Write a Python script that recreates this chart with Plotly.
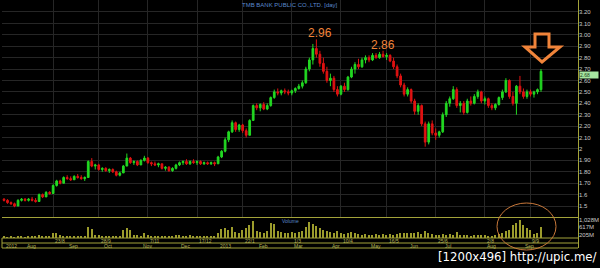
import plotly.graph_objects as go
import pandas as pd

# ---------------- data ----------------
opens = [1.56,1.55,1.53,1.52,1.50,1.55,1.56,1.55,1.56,1.55,
         1.54,1.60,1.58,1.62,1.61,1.68,1.72,1.70,1.75,1.74,
         1.73,1.76,1.75,1.74,1.75,1.89,1.85,1.86,1.82,1.83,
         1.81,1.82,1.80,1.77,1.79,1.85,1.92,1.88,1.89,1.86,
         1.90,1.92,1.88,1.87,1.86,1.87,1.83,1.84,1.81,1.83,
         1.86,1.88,1.89,1.87,1.89,1.88,1.89,1.87,1.88,1.87,
         1.88,1.87,1.93,1.98,2.08,2.15,2.23,2.17,2.21,2.16,
         2.12,2.25,2.38,2.36,2.39,2.35,2.38,2.45,2.50,2.49,
         2.51,2.50,2.49,2.51,2.53,2.55,2.58,2.70,2.78,2.88,
         2.83,2.75,2.68,2.60,2.62,2.52,2.48,2.55,2.52,2.63,
         2.70,2.74,2.72,2.78,2.80,2.78,2.82,2.80,2.83,2.81,
         2.82,2.77,2.72,2.64,2.56,2.48,2.52,2.42,2.33,2.38,
         2.22,2.06,2.22,2.14,2.12,2.15,2.30,2.40,2.44,2.52,
         2.38,2.40,2.32,2.42,2.40,2.46,2.50,2.42,2.44,2.38,
         2.36,2.39,2.45,2.50,2.60,2.46,2.40,2.55,2.50,2.46,
         2.50,2.48,2.50,2.52]
highs = [1.57,1.56,1.54,1.53,1.56,1.57,1.57,1.57,1.58,1.57,
         1.61,1.61,1.63,1.63,1.69,1.73,1.73,1.76,1.77,1.76,
         1.77,1.78,1.77,1.76,1.90,1.92,1.87,1.87,1.84,1.84,
         1.83,1.83,1.81,1.80,1.86,1.96,1.93,1.90,1.90,1.91,
         1.94,1.93,1.89,1.89,1.88,1.87,1.85,1.85,1.84,1.87,
         1.89,1.90,1.91,1.90,1.91,1.90,1.90,1.89,1.89,1.89,
         1.89,1.94,1.99,2.10,2.16,2.25,2.24,2.22,2.22,2.18,
         2.26,2.39,2.40,2.40,2.41,2.40,2.46,2.52,2.53,2.52,
         2.53,2.52,2.52,2.54,2.57,2.60,2.72,2.80,2.92,2.96,
         2.86,2.80,2.72,2.66,2.64,2.55,2.56,2.58,2.64,2.72,
         2.76,2.79,2.80,2.82,2.82,2.84,2.84,2.85,2.86,2.84,
         2.83,2.80,2.74,2.66,2.58,2.54,2.53,2.44,2.40,2.39,
         2.24,2.24,2.25,2.18,2.16,2.32,2.42,2.46,2.55,2.54,
         2.42,2.42,2.44,2.46,2.48,2.52,2.51,2.46,2.45,2.40,
         2.40,2.46,2.52,2.62,2.61,2.50,2.56,2.64,2.53,2.52,
         2.52,2.51,2.53,2.70]
lows = [1.54,1.52,1.51,1.49,1.50,1.54,1.54,1.54,1.54,1.53,
        1.54,1.57,1.58,1.60,1.61,1.67,1.69,1.70,1.73,1.72,
        1.73,1.74,1.73,1.72,1.75,1.84,1.82,1.81,1.80,1.80,
        1.79,1.79,1.76,1.76,1.79,1.85,1.87,1.86,1.85,1.86,
        1.89,1.87,1.85,1.85,1.84,1.82,1.81,1.80,1.80,1.82,
        1.85,1.86,1.86,1.86,1.87,1.86,1.86,1.86,1.86,1.86,
        1.85,1.87,1.92,1.97,2.06,2.14,2.15,2.15,2.14,2.10,
        2.12,2.25,2.34,2.33,2.34,2.34,2.37,2.44,2.47,2.47,
        2.48,2.47,2.47,2.49,2.52,2.53,2.57,2.68,2.74,2.80,
        2.72,2.66,2.58,2.55,2.50,2.46,2.47,2.50,2.51,2.62,
        2.66,2.70,2.71,2.75,2.76,2.77,2.79,2.79,2.80,2.78,
        2.76,2.70,2.62,2.54,2.46,2.46,2.40,2.30,2.30,2.20,
        2.02,2.04,2.12,2.08,2.10,2.14,2.28,2.37,2.43,2.36,
        2.32,2.30,2.31,2.38,2.39,2.44,2.40,2.39,2.36,2.34,
        2.34,2.38,2.43,2.49,2.44,2.38,2.30,2.48,2.44,2.44,
        2.46,2.45,2.48,2.50]
closes = [1.55,1.53,1.52,1.50,1.55,1.56,1.55,1.56,1.55,1.54,
          1.60,1.58,1.62,1.61,1.68,1.72,1.70,1.75,1.74,1.73,
          1.76,1.75,1.74,1.75,1.89,1.85,1.86,1.82,1.83,1.81,
          1.82,1.80,1.77,1.79,1.85,1.92,1.88,1.89,1.86,1.90,
          1.92,1.88,1.87,1.86,1.87,1.83,1.84,1.81,1.83,1.86,
          1.88,1.89,1.87,1.89,1.88,1.89,1.87,1.88,1.87,1.88,
          1.87,1.93,1.98,2.08,2.15,2.23,2.17,2.21,2.16,2.12,
          2.25,2.38,2.36,2.39,2.35,2.38,2.45,2.50,2.49,2.51,
          2.50,2.49,2.51,2.53,2.55,2.58,2.70,2.78,2.88,2.83,
          2.75,2.68,2.60,2.62,2.52,2.48,2.55,2.52,2.63,2.70,
          2.74,2.72,2.78,2.80,2.78,2.82,2.80,2.83,2.81,2.82,
          2.77,2.72,2.64,2.56,2.48,2.52,2.42,2.33,2.38,2.22,
          2.06,2.22,2.14,2.12,2.15,2.30,2.40,2.44,2.52,2.38,
          2.40,2.32,2.42,2.40,2.46,2.50,2.42,2.44,2.38,2.36,
          2.39,2.45,2.50,2.60,2.46,2.40,2.55,2.50,2.46,2.50,
          2.48,2.50,2.52,2.68]
volumes_m = [60,50,70,40,80,60,50,70,60,90,
             150,100,120,80,260,300,180,120,100,90,
             110,80,90,70,650,500,200,150,120,100,
             90,110,130,120,440,550,480,200,150,120,
             260,150,130,110,120,100,140,110,90,160,
             180,140,120,150,130,110,100,120,140,110,
             130,300,500,600,450,650,350,300,450,550,
             750,950,420,350,300,400,850,780,400,350,
             300,280,320,300,350,420,620,900,780,680,
             600,450,400,350,300,380,300,250,280,350,
             300,220,200,250,180,200,220,190,230,200,
             210,180,250,300,280,260,300,280,350,250,
             400,300,220,200,180,250,200,220,180,320,
             200,150,160,140,170,150,160,180,140,130,
             150,250,300,400,440,720,850,1050,720,600,
             440,250,300,620]

price_ticks = [1.5, 1.6, 1.7, 1.8, 1.9, 2.0, 2.1, 2.2, 2.3, 2.4, 2.5,
               2.6, 2.7, 2.8, 2.9, 3.0, 3.1, 3.2]
price_tick_text = ["1.5", "1.6", "1.70", "1.80", "1.90", "2", "2.10", "2.20",
                   "2.30", "2.40", "2.50", "2.60", "2.70", "2.80", "2.90",
                   "3.00", "3.10", "3.20"]
vol_ticks = [205, 617, 1028]
vol_tick_text = ["205M", "617M", "1,028M"]
title_text = "TMB BANK PUBLIC CO.,LTD. [day]"
watermark = "[1200x496] http://upic.me/"

# ---------------- x categories (every 2nd trading day) ----------------
N = len(closes)
dates = pd.bdate_range("2012-07-16", periods=N, freq="2B")
cats = [d.strftime("%Y-%m-%d") for d in dates]

W, H = 600, 268
def px(x, y):
    return x / W, 1 - y / H

LINE = "#a3a33a"
LABEL = "#b4b45a"
ORANGE = "#f0843a"

fig = go.Figure()
fig.add_trace(go.Candlestick(
    x=cats, open=opens, high=highs, low=lows, close=closes,
    increasing=dict(line=dict(color="#22d822", width=1), fillcolor="#22d822"),
    decreasing=dict(line=dict(color="#e01212", width=1), fillcolor="#e01212"),
    whiskerwidth=0, xaxis="x", yaxis="y", hoverinfo="skip", showlegend=False))
fig.add_trace(go.Bar(
    x=cats, y=volumes_m, marker=dict(color="#9c9c2c", line=dict(width=0)),
    width=0.4, xaxis="x2", yaxis="y2", hoverinfo="skip", showlegend=False))

# x range: first bar at px 4, last at px 541 inside domain 2..578
k = (541 - 4) / (N - 1)
r0 = -2 / k
r1 = r0 + 576 / k

grid_idx = [int(round(13.7 + 13.67 * j)) for j in range(11)]
grid_idx = [g for g in grid_idx if g < N]

fig.update_layout(
    width=W, height=H, margin=dict(l=0, r=0, t=0, b=0),
    paper_bgcolor="black", plot_bgcolor="black",
    font=dict(family="Liberation Sans, Arial, sans-serif", size=6, color="#c8c8c8"),
    xaxis=dict(domain=[2 / W, 578 / W], type="category", range=[r0, r1],
               rangeslider=dict(visible=False), showticklabels=False,
               tickvals=[cats[g] for g in grid_idx], showgrid=True,
               gridcolor="#262626", gridwidth=1, zeroline=False, showline=False,
               anchor="y"),
    xaxis2=dict(domain=[2 / W, 578 / W], type="category", range=[r0, r1],
                matches="x", showticklabels=False, showgrid=False,
                zeroline=False, showline=False, anchor="y2"),
    yaxis=dict(domain=[1 - 217 / H, 1], range=[1.404, 3.305], side="right",
               anchor="x", tickvals=price_ticks, ticktext=price_tick_text,
               showgrid=True, gridcolor="#262626", gridwidth=1, zeroline=False,
               tickfont=dict(size=6, color="#c8c8c8"), ticks=""),
    yaxis2=dict(domain=[1 - 238 / H, 1 - 217 / H], range=[0, 1205], side="right",
                anchor="x2", tickvals=vol_ticks, ticktext=vol_tick_text,
                showgrid=False, zeroline=False,
                tickfont=dict(size=6, color="#c8c8c8"), ticks=""),
    bargap=0,
)

shapes = []
def hline(y, x0=2, x1=578, color=LINE, w=1):
    a = px(x0, y); b = px(x1, y)
    shapes.append(dict(type="line", xref="paper", yref="paper",
                       x0=a[0], y0=a[1], x1=b[0], y1=b[1],
                       line=dict(color=color, width=w)))
def vline(x, y0, y1, color=LINE, w=1):
    a = px(x, y0); b = px(x, y1)
    shapes.append(dict(type="line", xref="paper", yref="paper",
                       x0=a[0], y0=a[1], x1=b[0], y1=b[1],
                       line=dict(color=color, width=w)))

hline(217.5)
hline(238)
hline(243)
hline(248)
vline(578.5, 0, 248)
vline(2, 238, 248)

# orange arrow outline
arrow_pts = [(535, 34), (549, 34), (549, 47), (560, 47), (542, 62),
             (525, 47), (535, 47)]
path = "M " + " L ".join(f"{px(x, y)[0]:.5f},{px(x, y)[1]:.5f}" for x, y in arrow_pts) + " Z"
shapes.append(dict(type="path", xref="paper", yref="paper", path=path,
                   line=dict(color=ORANGE, width=3)))
# ellipse around volume
e0 = px(497, 203); e1 = px(556, 250)
shapes.append(dict(type="circle", xref="paper", yref="paper",
                   x0=e0[0], y0=e1[1], x1=e1[0], y1=e0[1],
                   line=dict(color="#c8783a", width=1)))
fig.update_layout(shapes=shapes)

ann = []
# title
tx, ty = px(290, 5)
ann.append(dict(text=title_text, xref="paper", yref="paper", x=tx, y=ty,
                yanchor="middle", showarrow=False, font=dict(size=6, color="#5a88cc")))
# peak labels
p1 = max(range(N), key=lambda i: highs[i])
p2 = max(range(100, 116), key=lambda i: highs[i])
ann.append(dict(text=f"{highs[p1]:.2f}", xref="x", yref="y", x=cats[min(p1 + 1, N - 1)],
                y=highs[p1] + 0.06, yanchor="middle", showarrow=False,
                font=dict(size=12, color=ORANGE, family="Liberation Sans, Arial")))
ann.append(dict(text=f"{highs[p2]:.2f}", xref="x", yref="y", x=cats[p2],
                y=highs[p2] + 0.05, yanchor="middle", showarrow=False,
                font=dict(size=12, color=ORANGE, family="Liberation Sans, Arial")))
# last price tag
ann.append(dict(text=f"{closes[-1]:.2f}", xref="paper", yref="y", x=579 / W,
                y=closes[-1], xanchor="left", yanchor="middle", yshift=-4,
                showarrow=False, bgcolor="#a6e6a0", font=dict(size=5, color="#1a3a1a"),
                borderpad=0, width=18, height=6, align="left"))
# date row 1 (gridline dates)
r1y = px(0, 240.5)[1]
for g in grid_idx:
    d = dates[g]
    ann.append(dict(text=f"{d.day}/{d.month}", xref="x", yref="paper", x=cats[g],
                    y=r1y, xanchor="left", yanchor="middle", showarrow=False,
                    font=dict(size=5, color=LABEL)))
# date row 2 (months)
r2y = px(0, 245.5)[1]
for i in range(N):
    if i == 0 or dates[i].month != dates[i - 1].month:
        d = dates[i]
        lab = str(d.year) if (i == 0 or d.month == 1) else d.strftime("%b")
        ann.append(dict(text=lab, xref="x", yref="paper", x=cats[i], y=r2y,
                        xanchor="left", yanchor="middle", showarrow=False,
                        font=dict(size=5, color=LABEL)))
# volume label
vx, vy = px(290, 220.5)
ann.append(dict(text="Volume", xref="paper", yref="paper", x=vx, y=vy,
                yanchor="middle", showarrow=False, font=dict(size=5, color="#5a88cc")))
# watermark
wx, wy = px(598, 256)
ann.append(dict(text=watermark, xref="paper", yref="paper", x=wx, y=wy,
                xanchor="right", yanchor="middle", showarrow=False,
                font=dict(size=13, color="white",
                          family="Liberation Sans Narrow, DejaVu Sans Condensed, sans-serif")))
fig.update_layout(annotations=ann)

fig.write_html("out.html")
